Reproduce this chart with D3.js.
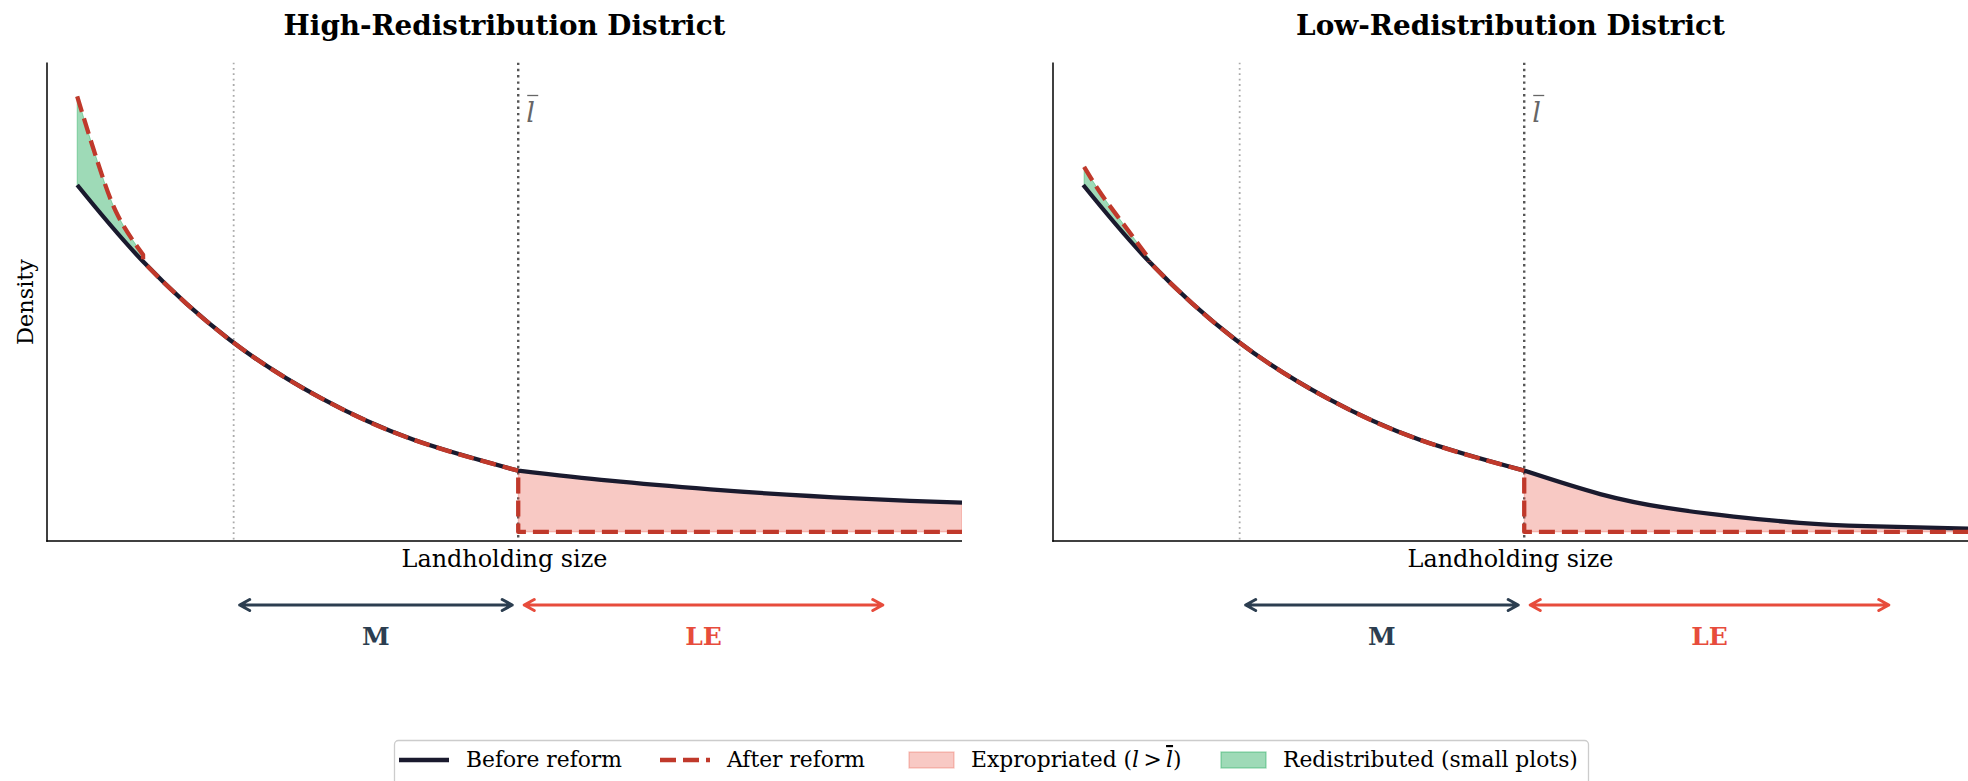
<!DOCTYPE html>
<html><head><meta charset="utf-8">
<script src="https://cdn.jsdelivr.net/npm/d3@7/dist/d3.min.js"></script>
<style>
html,body{margin:0;padding:0;background:#fff;}
svg{display:block;}
text{font-family:"DejaVu Serif",serif;}
</style></head>
<body>
<svg id="chart" width="1968" height="781"></svg>
<script>
// ---------------- data ----------------
const panelTitles = ["High-Redistribution District", "Low-Redistribution District"];
const xLabel = "Landholding size";
const yLabel = "Density";
const legendLabels = ["Before reform", "After reform", "Expropriated", "Redistributed (small plots)"];
const arrowLabels = ["M", "LE"];

// shared pre-reform density up to the ceiling l-bar
const xCore = [0.33, 1.05, 2.0, 3.0, 4.0, 5.15];
const yCore = [0.744, 0.584, 0.420, 0.298, 0.212, 0.147];

// pre-reform tail above l-bar
const xTailHigh = [5.15, 6.15, 7.25, 8.34, 9.43, 10.0];
const yTailHigh = [0.147, 0.126, 0.108, 0.094, 0.084, 0.080];
const xTailLow = [5.15, 5.98, 6.71, 7.44, 8.16, 8.89, 10.0];
const yTailLow = [0.147, 0.098, 0.069, 0.051, 0.038, 0.031, 0.026];

// post-reform density on small plots (boosted by redistribution)
const xBoostHigh = [0.33, 0.47, 0.60, 0.78, 1.05];
const yBoostHigh = [0.929, 0.842, 0.765, 0.678, 0.598];
const xBoostLow = [0.34, 0.51, 0.70, 0.88, 1.05];
const yBoostLow = [0.782, 0.730, 0.680, 0.634, 0.590];

// post-reform residual density above l-bar
const yAfterTail = 0.019;

const xMark = 2.04;     // light dotted line
const lBar = 5.15;      // ceiling
const arrowM = [2.04, 5.15];
const arrowLE = [5.15, 9.2];
const xDomain = [0, 10];
const yDomain = [0, 1];

// ---------------- styles ----------------
const C_BEFORE = "#1a1a2e", C_AFTER = "#c0392b";
const C_PINK = "rgba(231,76,60,0.3)", C_GREEN = "rgba(39,174,96,0.45)";
const C_M = "#2c3e50", C_LE = "#e74c3c";

const svg = d3.select("#chart");
const defs = svg.append("defs");

const panels = [
  {left: 47, right: 962, tailX: xTailHigh, tailY: yTailHigh, bx: xBoostHigh, by: yBoostHigh, titleW: 442},
  {left: 1053, right: 1968, tailX: xTailLow, tailY: yTailLow, bx: xBoostLow, by: yBoostLow, titleW: 429}
];
const axTop = 62.5, axBottom = 541;

function fit(sel, w) {
  const n = sel.node();
  const fs = parseFloat(sel.attr("font-size"));
  const l = n.getComputedTextLength();
  sel.attr("font-size", (fs * w / l).toFixed(2));
  return fs * w / l;
}
const zip = (xs, ys) => xs.map((x, i) => [x, ys[i]]);

panels.forEach((p, pi) => {
  const x = d3.scaleLinear(xDomain, [p.left, p.right]);
  const y = d3.scaleLinear(yDomain, [axBottom, axTop]);
  const g = svg.append("g");
  const clipId = "axclip" + pi;
  defs.append("clipPath").attr("id", clipId).append("rect")
    .attr("x", p.left).attr("y", axTop).attr("width", p.right - p.left).attr("height", axBottom - axTop);
  const pg = g.append("g").attr("clip-path", `url(#${clipId})`);

  const line = d3.line().x(d => x(d[0])).y(d => y(d[1])).curve(d3.curveNatural);
  const straight = d3.line().x(d => x(d[0])).y(d => y(d[1]));
  const core = zip(xCore, yCore);
  const tail = zip(p.tailX, p.tailY);
  const boost = zip(p.bx, p.by);
  const xEnd = p.bx[p.bx.length - 1];
  const yJoin = yCore[xCore.indexOf(xEnd)];
  const coreD = line(core);

  // vertical reference lines
  pg.append("line").attr("x1", x(xMark)).attr("x2", x(xMark)).attr("y1", axTop).attr("y2", axBottom)
    .attr("stroke", "#aaaaaa").attr("stroke-width", 1.8).attr("stroke-dasharray", "1.8,3.6");
  pg.append("line").attr("x1", x(lBar)).attr("x2", x(lBar)).attr("y1", axTop).attr("y2", axBottom)
    .attr("stroke", "#555555").attr("stroke-width", 2.4).attr("stroke-dasharray", "2.4,3.9");

  // expropriated area
  const area = d3.area().x(d => x(d[0])).y0(y(yAfterTail)).y1(d => y(d[1])).curve(d3.curveNatural);
  pg.append("path").attr("d", area(tail)).attr("fill", C_PINK).attr("stroke", C_PINK).attr("stroke-width", 1);

  // redistributed area: under the boost curve, clipped to the region above the pre-reform curve
  const gid = "greenclip" + pi;
  defs.append("clipPath").attr("id", gid).append("path")
    .attr("d", coreD + `L${x(xCore[xCore.length - 1])},${axTop}L${x(xCore[0]) - 3},${axTop}L${x(xCore[0]) - 3},${y(yCore[0])}Z`);
  const garea = d3.area().x(d => x(d[0])).y0(axBottom).y1(d => y(d[1])).curve(d3.curveNatural);
  pg.append("path").attr("d", garea(boost)).attr("fill", C_GREEN)
    .attr("stroke", C_GREEN).attr("stroke-width", 1).attr("clip-path", `url(#${gid})`);

  // before-reform line
  const beforeD = coreD + line(tail).replace(/^M/, "L");
  pg.append("path").attr("d", beforeD).attr("fill", "none").attr("stroke", C_BEFORE)
    .attr("stroke-width", 4.3).attr("stroke-linejoin", "round");

  // after-reform line: boosted part, then the unchanged part (clipped to x >= xEnd), then residual tail
  const cid = "afterclip" + pi;
  defs.append("clipPath").attr("id", cid).append("rect")
    .attr("x", x(xEnd)).attr("y", axTop - 10).attr("width", p.right - x(xEnd) + 10).attr("height", axBottom - axTop + 20);
  const boostD = line(boost) + straight([[xEnd, p.by[p.by.length - 1]], [xEnd, yJoin]]).replace(/^M/, "L");
  pg.append("path").attr("d", boostD).attr("fill", "none").attr("stroke", C_AFTER)
    .attr("stroke-width", 4.3).attr("stroke-dasharray", "16,7").attr("stroke-linejoin", "round");
  const flat = [[lBar, yCore[yCore.length - 1]], [lBar, yAfterTail], [xDomain[1], yAfterTail]];
  pg.append("g").attr("clip-path", `url(#${cid})`).append("path")
    .attr("d", coreD + straight(flat).replace(/^M/, "L")).attr("fill", "none").attr("stroke", C_AFTER)
    .attr("stroke-width", 4.3).attr("stroke-dasharray", "16,7").attr("stroke-dashoffset", 8)
    .attr("stroke-linejoin", "round");

  // spines
  g.append("line").attr("x1", p.left).attr("x2", p.left).attr("y1", axTop).attr("y2", axBottom + 0.75)
    .attr("stroke", "#000").attr("stroke-width", 1.5);
  g.append("line").attr("x1", p.left - 0.75).attr("x2", p.right).attr("y1", axBottom).attr("y2", axBottom)
    .attr("stroke", "#000").attr("stroke-width", 1.5);

  // l-bar label
  g.append("text").attr("x", x(lBar) + 8).attr("y", 122).attr("font-size", 27)
    .attr("font-style", "italic").attr("fill", "#666").text("l");
  g.append("line").attr("x1", x(lBar) + 9).attr("x2", x(lBar) + 20).attr("y1", 95.5).attr("y2", 95.5)
    .attr("stroke", "#666").attr("stroke-width", 1.3);

  // title
  const t = g.append("text").attr("x", (p.left + p.right) / 2).attr("y", 35).attr("text-anchor", "middle")
    .attr("font-weight", "bold").attr("font-size", 24).text(panelTitles[pi]);
  fit(t, p.titleW);

  // x label
  const xl = g.append("text").attr("x", (p.left + p.right) / 2).attr("y", 567).attr("text-anchor", "middle")
    .attr("font-size", 22).text(xLabel);
  fit(xl, 206);

  // arrows
  const arrowY = 605;
  [[arrowM, C_M, arrowLabels[0]], [arrowLE, C_LE, arrowLabels[1]]].forEach(([span, col, lab]) => {
    const a = x(span[0]) + 6, b = x(span[1]) - 6, h = 10, w = 5.5;
    g.append("path").attr("d",
      `M${a},${arrowY}L${b},${arrowY}M${a + h},${arrowY - w}L${a},${arrowY}L${a + h},${arrowY + w}` +
      `M${b - h},${arrowY - w}L${b},${arrowY}L${b - h},${arrowY + w}`)
      .attr("fill", "none").attr("stroke", col).attr("stroke-width", 3).attr("stroke-linecap", "round")
      .attr("stroke-linejoin", "round");
    g.append("text").attr("x", (x(span[0]) + x(span[1])) / 2).attr("y", 645).attr("text-anchor", "middle")
      .attr("font-weight", "bold").attr("font-size", 25).attr("fill", col).text(lab);
  });
});

// y label (left panel only)
svg.append("text").attr("transform", "translate(33,302) rotate(-90)").attr("text-anchor", "middle")
  .attr("font-size", 22.4).text(yLabel);

// ---------------- legend ----------------
const lg = svg.append("g");
lg.append("rect").attr("x", 394.5).attr("y", 740.5).attr("width", 1194).attr("height", 46).attr("rx", 4)
  .attr("fill", "rgba(255,255,255,0.8)").attr("stroke", "#cccccc").attr("stroke-width", 1.3);
const ly = 760;
lg.append("line").attr("x1", 399).attr("x2", 449).attr("y1", ly).attr("y2", ly)
  .attr("stroke", C_BEFORE).attr("stroke-width", 4.3);
lg.append("line").attr("x1", 660).attr("x2", 710).attr("y1", ly).attr("y2", ly)
  .attr("stroke", C_AFTER).attr("stroke-width", 4.3).attr("stroke-dasharray", "16,7");
lg.append("rect").attr("x", 909).attr("y", 752).attr("width", 45).attr("height", 16)
  .attr("fill", C_PINK).attr("stroke", C_PINK).attr("stroke-width", 1.3);
lg.append("rect").attr("x", 1221).attr("y", 752).attr("width", 45).attr("height", 16)
  .attr("fill", C_GREEN).attr("stroke", C_GREEN).attr("stroke-width", 1.3);
const fsL = 20.5;
const t1 = lg.append("text").attr("x", 466).attr("y", ly + 7).attr("font-size", fsL).text(legendLabels[0]);
const fsFit = fit(t1, 156);
lg.append("text").attr("x", 727).attr("y", ly + 7).attr("font-size", fsFit).text(legendLabels[1]);
const t3 = lg.append("text").attr("x", 971).attr("y", ly + 7).attr("font-size", fsFit);
t3.append("tspan").text(legendLabels[2] + " (");
t3.append("tspan").attr("font-style", "italic").text("l");
t3.append("tspan").text("\u2009>\u2009");
t3.append("tspan").attr("font-style", "italic").style("text-decoration", "overline").text("l");
t3.append("tspan").text(")");
lg.append("text").attr("x", 1283).attr("y", ly + 7).attr("font-size", fsFit).text(legendLabels[3]);
</script>
</body></html>
